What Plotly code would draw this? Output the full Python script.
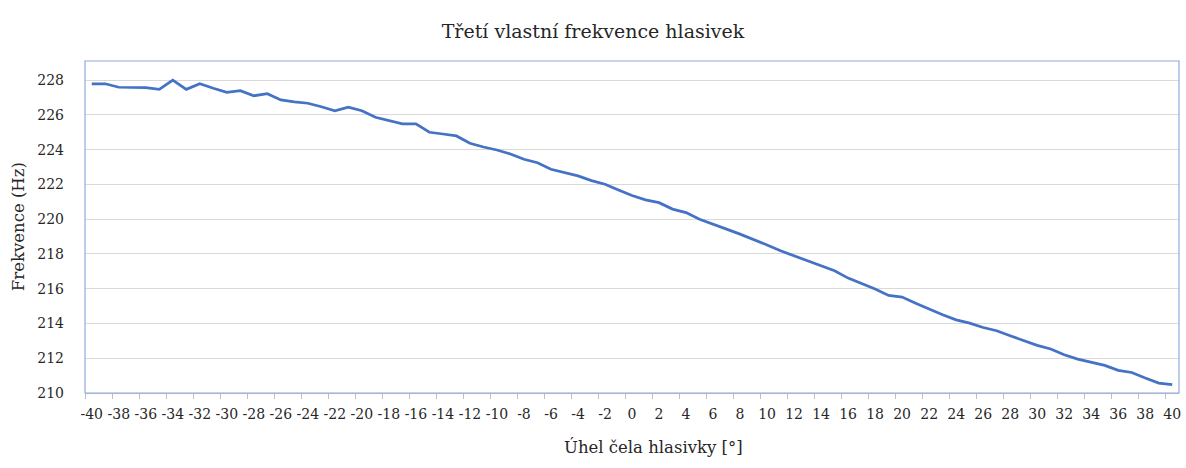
import plotly.graph_objects as go

angles = list(range(-40, 41))
freq = [
    227.79, 227.79, 227.59, 227.59, 227.57, 227.47, 228.00, 227.47, 227.79, 227.53,
    227.30, 227.39, 227.10, 227.22, 226.86, 226.75, 226.67, 226.47, 226.24, 226.45,
    226.24, 225.86, 225.67, 225.48, 225.48, 225.00, 224.90, 224.79, 224.37, 224.15,
    223.98, 223.75, 223.45, 223.25, 222.87, 222.68, 222.49, 222.22, 222.01, 221.68,
    221.36, 221.11, 220.95, 220.58, 220.38, 220.00, 219.73, 219.43, 219.14, 218.85,
    218.52, 218.18, 217.89, 217.60, 217.32, 217.03, 216.61, 216.30, 215.98, 215.61,
    215.52, 215.17, 214.83, 214.50, 214.21, 214.02, 213.77, 213.58, 213.29, 213.01,
    212.74, 212.53, 212.20, 211.95, 211.76, 211.59, 211.30, 211.18, 210.86, 210.57,
    210.48,
]
x_ticks = list(range(-40, 41, 2))
y_ticks = list(range(210, 229, 2))

title_text = "Třetí vlastní frekvence hlasivek"
x_title = "Úhel čela hlasivky [°]"
y_title = "Frekvence (Hz)"

FONT = "DejaVu Serif"
TXT = "#262626"

fig = go.Figure()
fig.add_trace(go.Scatter(
    x=angles, y=freq, mode="lines",
    line=dict(color="#4472C4", width=2.75),
    showlegend=False, hoverinfo="x+y",
))

fig.update_layout(
    width=1186, height=468,
    margin=dict(l=85, r=5, t=61, b=75),
    paper_bgcolor="white", plot_bgcolor="white",
    font=dict(family=FONT, size=14, color=TXT),
    title=dict(text=title_text, x=0.5, xanchor="center", y=0.934, yanchor="middle",
               font=dict(family=FONT, size=19, color=TXT)),
)

fig.update_xaxes(
    range=[-40.5, 40.5],
    tickmode="array", tickvals=x_ticks, ticktext=[str(v) for v in x_ticks],
    ticks="", showgrid=False, zeroline=False,
    showline=True, linecolor="#BFBFBF", linewidth=1,
    ticklabelstandoff=8,
    tickfont=dict(family=FONT, size=14, color=TXT),
    minor=dict(tickmode="array", tickvals=[v - 0.5 for v in x_ticks],
               ticks="outside", ticklen=5, tickcolor="#BFBFBF", showgrid=False),
)

fig.update_yaxes(
    range=[210, 229.1],
    tickmode="array", tickvals=y_ticks, ticktext=[str(v) for v in y_ticks],
    ticks="", showgrid=True, gridcolor="#D9D9D9", gridwidth=1,
    zeroline=False, showline=False,
    ticklabelstandoff=20,
    tickfont=dict(family=FONT, size=14, color=TXT),
)

fig.add_annotation(text=x_title, xref="paper", yref="paper", x=0.52, y=-0.163,
                   xanchor="center", yanchor="middle", showarrow=False,
                   font=dict(family=FONT, size=16.5, color=TXT))
fig.add_annotation(text=y_title, xref="paper", yref="paper", x=-0.0611, y=0.5,
                   xanchor="center", yanchor="middle", showarrow=False, textangle=-90,
                   font=dict(family=FONT, size=16.5, color=TXT))

fig.add_shape(type="rect", xref="paper", yref="paper", x0=0, x1=1, y0=0, y1=1,
              line=dict(color="#8FAADC", width=1.2), fillcolor="rgba(0,0,0,0)", layer="above")

fig.write_html("out.html", config={"displayModeBar": False},
               post_script="document.body.style.margin='0';")
